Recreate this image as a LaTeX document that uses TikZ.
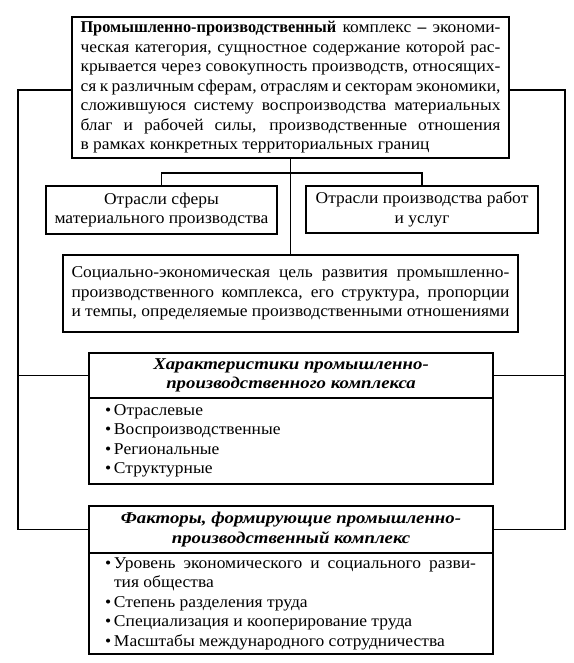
\documentclass[tikz,border=0pt]{standalone}
\usepackage{fontspec}
\setmainfont{Liberation Serif}[FakeStretch=1.06]
\newfontfamily\hdrfont{Liberation Serif}[FakeStretch=1.14]
\newfontfamily\narrowfont{Liberation Serif}[FakeStretch=0.99]
\newcommand\jline[2]{\makebox[#1][s]{#2}}
\newcommand\bitem[1]{\makebox[9pt][l]{•}#1}
\newcommand\hdr[1]{{\hdrfont\bfseries\itshape #1}}
\begin{document}
\begin{tikzpicture}[x=1pt,y=-1pt,
  box/.style={draw, line width=1.2pt, inner sep=0pt, align=center, fill=white},
  conn/.style={line width=1.1pt},
  txt/.style={font=\fontsize{16.5}{19.5}\selectfont}]
\useasboundingbox (0,0) rectangle (573,663);
\fill[white] (0,0) rectangle (573,663);

% top box
\node[box, txt, minimum width=437pt, minimum height=141pt] (top) at (290.5,87.5)
{\parbox{420pt}{%
\jline{420pt}{{\narrowfont\bfseries Промышленно-производственный} комплекс \textbf{–} экономи-}\\
\jline{420pt}{ческая категория, сущностное содержание которой рас-}\\
\jline{420pt}{крывается через совокупность производств, относящих-}\\
\jline{420pt}{ся к различным сферам, отраслям и секторам экономики,}\\
\jline{420pt}{сложившуюся систему воспроизводства материальных}\\
\jline{420pt}{благ и рабочей силы, производственные отношения}\\
в рамках конкретных территориальных границ}};

% two branch boxes
\node[box, txt, minimum width=231pt, minimum height=48pt] (matb) at (161.5,210)
{Отрасли сферы\\материального производства};
\node[box, txt, minimum width=232pt, minimum height=47pt] (servb) at (422,209.5)
{Отрасли производства работ\\и услуг};

% social box
\node[box, txt, minimum width=455pt, minimum height=77pt] (soc) at (290.5,293.5)
{\parbox{438pt}{%
\jline{438pt}{Социально-экономическая цель развития промышленно-}\\
\jline{438pt}{производственного комплекса, его структура, пропорции}\\
\jline{438pt}{и темпы, определяемые производственными отношениями}}};

% characteristics
\node[box, txt, minimum width=404pt, minimum height=45pt] (charh) at (291,375.5)
{\hdr{Характеристики промышленно-}\\\hdr{производственного комплекса}};
\node[box, txt, minimum width=404pt, minimum height=86pt] (charl) at (291,441)
{\parbox{372pt}{\raggedright
\bitem{Отраслевые}\\
\bitem{Воспроизводственные}\\
\bitem{Региональные}\\
\bitem{Структурные}}};

% factors
\node[box, txt, minimum width=404pt, minimum height=47pt] (facth) at (291,529.5)
{\hdr{Факторы, формирующие промышленно-}\\\hdr{производственный комплекс}};
\node[box, txt, minimum width=404pt, minimum height=101pt] (factl) at (291,603.5)
{\parbox{372pt}{\raggedright
\bitem{\jline{362pt}{Уровень экономического и социального разви-}}\\
\hspace*{9pt}тия общества\\
\bitem{Степень разделения труда}\\
\bitem{Специализация и кооперирование труда}\\
\bitem{Масштабы международного сотрудничества}}};

% connectors
\coordinate (lt) at (18,90);
\coordinate (rt) at (565,90);
\coordinate (br) at (290.5,173);
\draw[conn] (top.south) -- (soc.north);
\draw[conn] (matb.north) |- (br) -| (servb.north);
\draw[conn] (top.west |- lt) -- (lt) |- (facth.west);
\draw[conn] (top.east |- rt) -- (rt) |- (facth.east);
\draw[conn] (lt |- charh.west) -- (charh.west);
\draw[conn] (rt |- charh.east) -- (charh.east);
\end{tikzpicture}
\end{document}
